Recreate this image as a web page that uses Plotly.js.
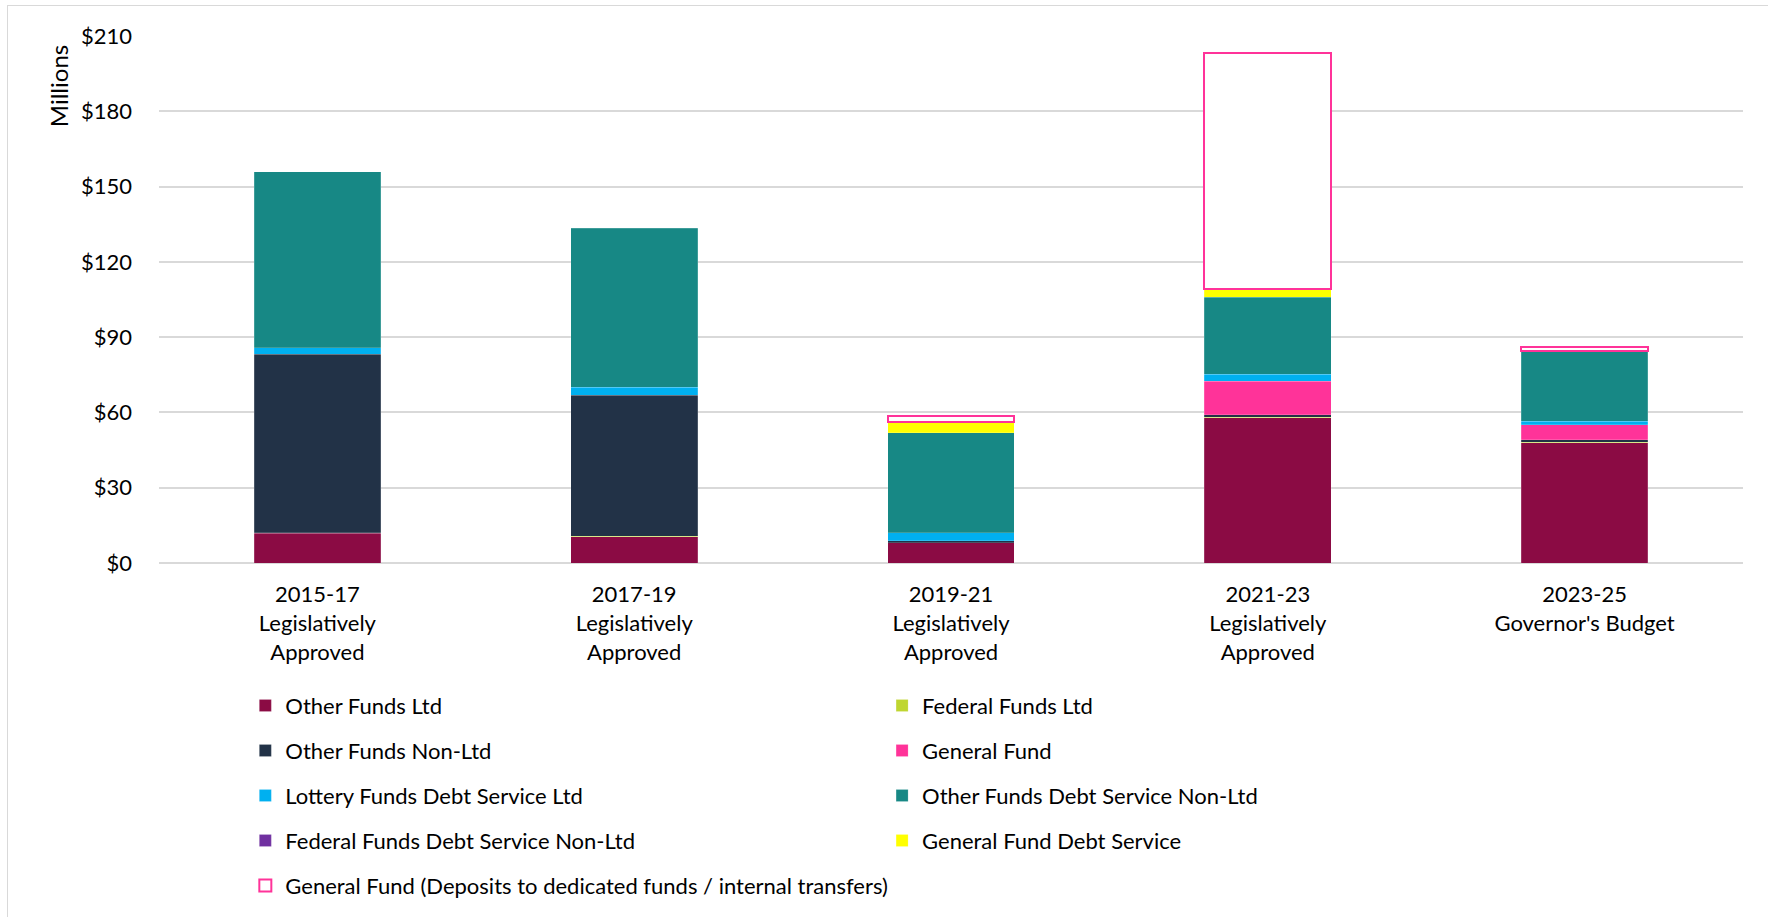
<!DOCTYPE html>
<html>
<head>
<meta charset="utf-8">
<script src="https://cdn.plot.ly/plotly-3.0.1.min.js"></script>
<style>
  html, body { margin: 0; padding: 0; background: #fff; overflow: hidden; }
  #chart { width: 1768px; height: 917px; }
  #frame { position: absolute; left: 7px; top: 5px; width: 2000px; height: 2000px;
           border: 1px solid #d9d9d9; pointer-events: none; }
</style>
</head>
<body>
<div id="chart"></div>
<div id="frame"></div>
<script>
// biennium labels on the x axis
const categories = [
  '2015-17<br>Legislatively<br>Approved',
  '2017-19<br>Legislatively<br>Approved',
  '2019-21<br>Legislatively<br>Approved',
  '2021-23<br>Legislatively<br>Approved',
  "2023-25<br>Governor's Budget"
];

// values in millions (stack order bottom to top)
const otherFundsLtd = [11.8, 10.4, 8.0, 57.8, 47.9];
const federalFundsLtd = [0.3, 0.3, 0.0, 0.2, 0.2];
const otherFundsNonLtd = [71.0, 56.1, 0.9, 1.0, 1.0];
const generalFund = [0.0, 0.0, 0.0, 13.4, 5.9];
const lotteryDebtService = [2.7, 3.3, 3.2, 2.9, 1.5];
const otherFundsDebtService = [70.1, 63.3, 39.9, 30.6, 27.9];
const federalDebtService = [0.0, 0.0, 0.0, 0.0, 0.0];
const generalFundDebtService = [0.0, 0.0, 4.1, 3.2, 0.0];
const generalFundDeposits = [0.0, 0.0, 2.5, 94.0, 1.7];

const yTicks = [0, 30, 60, 90, 120, 150, 180, 210];
const yTickText = yTicks.map(v => '&#36;' + v);

const FONT = 'Lato, "Open Sans", sans-serif';

const series = [
  { name: 'Other Funds Ltd', y: otherFundsLtd, color: '#8B0B44', legend: 'legend' },
  { name: 'Federal Funds Ltd', y: federalFundsLtd, color: '#BFD630', legend: 'legend2' },
  { name: 'Other Funds Non-Ltd', y: otherFundsNonLtd, color: '#223247', legend: 'legend' },
  { name: 'General Fund', y: generalFund, color: '#FF3399', legend: 'legend2' },
  { name: 'Lottery Funds Debt Service Ltd', y: lotteryDebtService, color: '#00B0F0', legend: 'legend' },
  { name: 'Other Funds Debt Service Non-Ltd', y: otherFundsDebtService, color: '#178885', legend: 'legend2' },
  { name: 'Federal Funds Debt Service Non-Ltd', y: federalDebtService, color: '#7030A0', legend: 'legend' },
  { name: 'General Fund Debt Service', y: generalFundDebtService, color: '#FFFF00', legend: 'legend2' },
  { name: 'General Fund (Deposits to dedicated funds / internal transfers)', y: generalFundDeposits,
    color: '#FFFFFF', outline: '#FF3399', legend: 'legend' }
];

const traces = series.map(s => ({
  type: 'bar',
  name: s.name,
  x: categories,
  // empty segments are left out so the outlined series leaves no stray line
  y: s.y.map(v => (v > 0 ? v : null)),
  legend: s.legend,
  legendgroup: s.name,
  marker: {
    color: s.color,
    line: s.outline
      ? { color: s.outline, width: 2 }
      : { color: 'rgba(255,255,255,0.35)', width: 0.5 }
  },
  hovertemplate: '%{y:$.1f}M<extra>' + s.name + '</extra>'
}));

const legendBase = {
  orientation: 'v',
  traceorder: 'grouped',
  tracegroupgap: 13.4,
  yanchor: 'top',
  xanchor: 'left',
  y: -0.231,
  bgcolor: 'rgba(0,0,0,0)',
  font: { family: FONT, size: 22, color: '#000' }
};

const layout = {
  width: 1768,
  height: 917,
  barmode: 'stack',
  bargap: 0.6,
  paper_bgcolor: 'rgba(0,0,0,0)',
  plot_bgcolor: 'rgba(0,0,0,0)',
  margin: { l: 158.5, r: 24.5, t: 35.5, b: 354.3, autoexpand: false },
  font: { family: FONT, size: 22, color: '#000' },
  showlegend: true,
  xaxis: {
    type: 'category',
    showgrid: false,
    showline: false,
    zeroline: false,
    ticks: 'outside',
    ticklen: 12,
    tickcolor: 'rgba(0,0,0,0)',
    automargin: false,
    tickfont: { family: FONT, size: 22, color: '#000' }
  },
  yaxis: {
    range: [0, 210],
    tickmode: 'array',
    tickvals: yTicks,
    ticktext: yTickText,
    showgrid: true,
    gridcolor: '#d9d9d9',
    gridwidth: 2,
    zeroline: true,
    zerolinecolor: '#d9d9d9',
    zerolinewidth: 2,
    showline: false,
    ticks: '',
    automargin: false,
    ticklabelstandoff: 26,
    tickfont: { family: FONT, size: 22, color: '#000' }
  },
  legend: Object.assign({}, legendBase, { x: 0.0545 }),
  legend2: Object.assign({}, legendBase, { x: 0.4565 }),
  annotations: [{
    text: 'Millions',
    xref: 'paper', yref: 'paper',
    x: -0.0634, y: 0.904,
    xanchor: 'center', yanchor: 'middle',
    textangle: -90,
    showarrow: false,
    font: { family: FONT, size: 24, color: '#000' }
  }]
};

Plotly.newPlot('chart', traces, layout, { displayModeBar: false, responsive: false });
</script>
</body>
</html>
